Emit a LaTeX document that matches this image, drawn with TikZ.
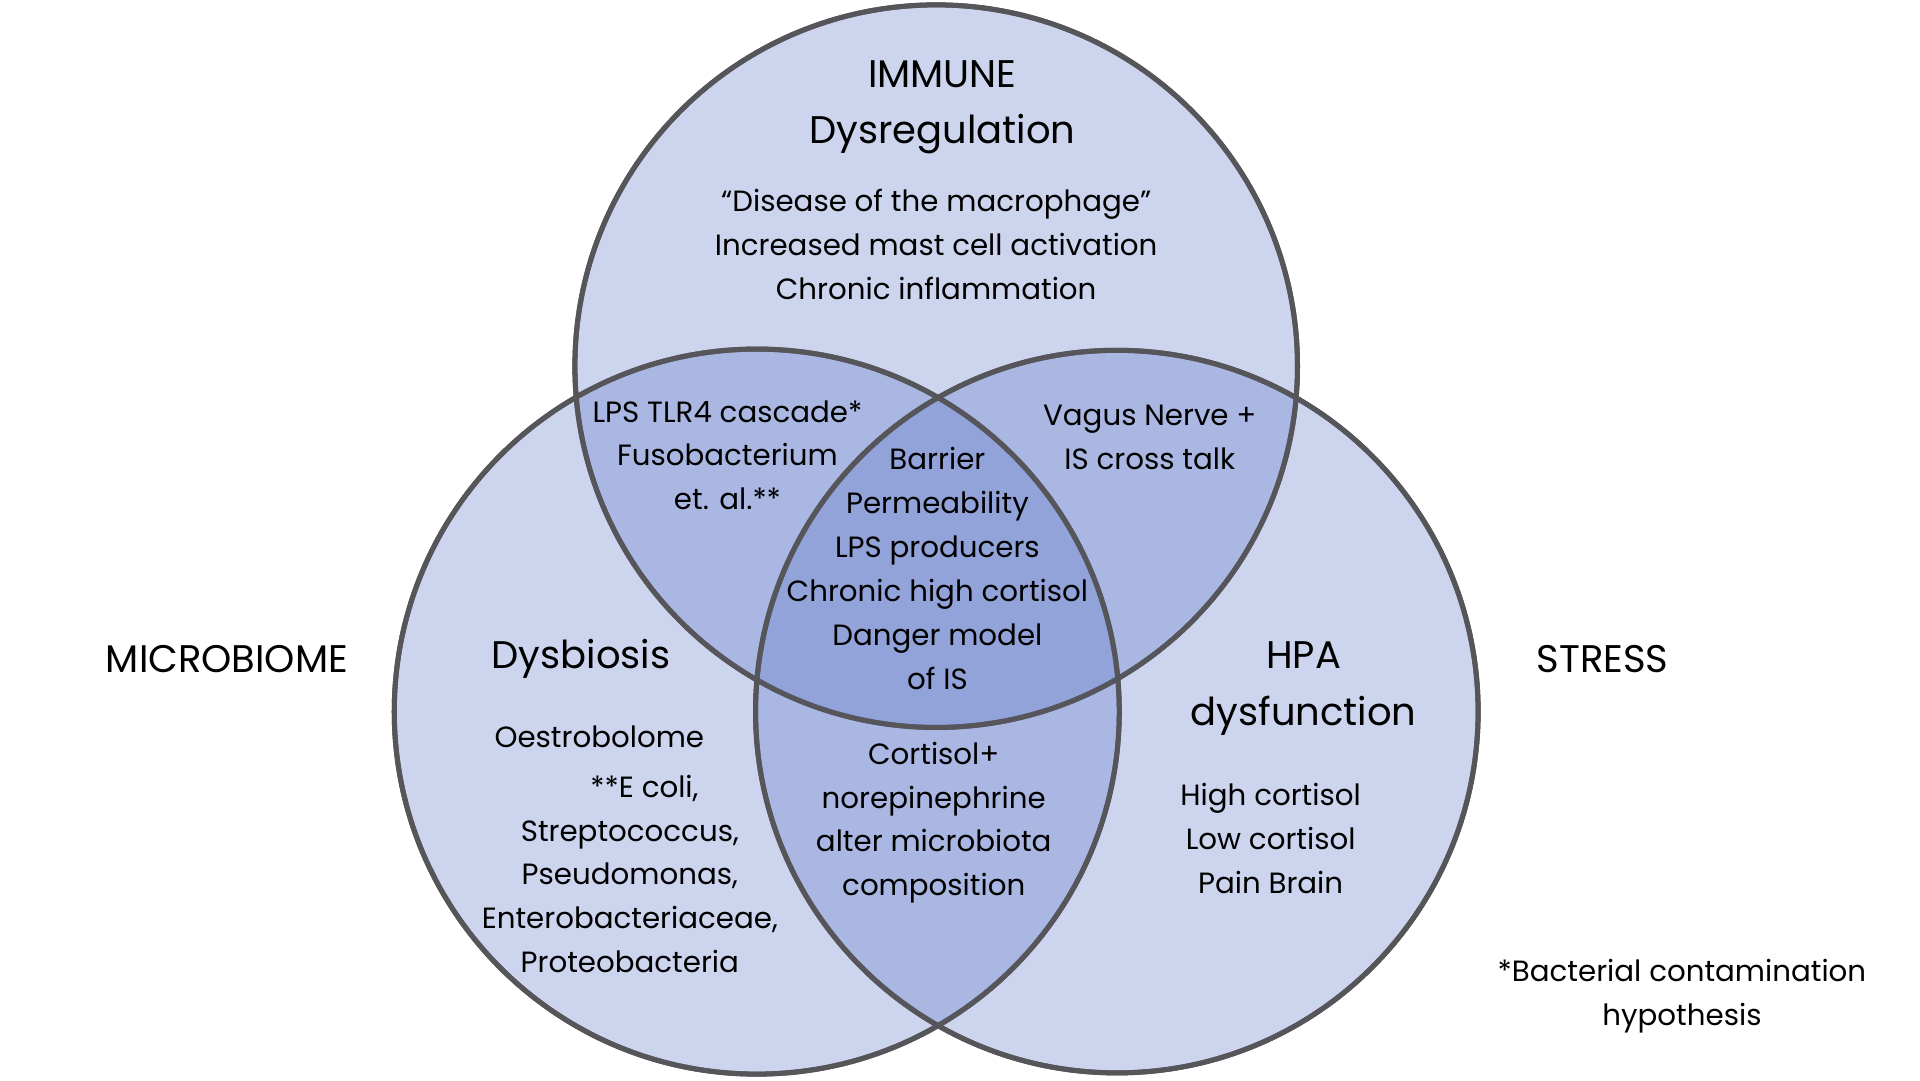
\documentclass[tikz,border=0pt]{standalone}
\usepackage{fontspec}
\setmainfont{Poppins}
\definecolor{venn}{RGB}{88,115,198}
\definecolor{rim}{RGB}{85,85,90}
\tikzset{
  set/.style={fill=venn,fill opacity=0.3,draw=rim,draw opacity=1,line width=1.2pt},
  txt/.style={align=center,font=\fontsize{7}{10.5}\selectfont,inner sep=0pt},
  head/.style={align=center,font=\fontsize{9.2}{13.5}\selectfont,inner sep=0pt}
}
\begin{document}
\begin{tikzpicture}[x=0.01026cm,y=-0.01026cm]
\useasboundingbox (0,0) rectangle (1573,885);
\coordinate (immune) at (767,300);
\coordinate (micro) at (620,583);
\coordinate (stress) at (915,583);
\fill[set] (immune) circle (296);
\fill[set] (micro) circle (297);
\fill[set] (stress) circle (296);
\draw[rim,line width=1.2pt] (immune) circle (296);
\draw[rim,line width=1.2pt] (micro) circle (297);
\draw[rim,line width=1.2pt] (stress) circle (296);
% headings
\node[head] (imh) at (772,88) {IMMUNE\\Dysregulation};
\node[head] (mih) at (186,540) {MICROBIOME};
\node[head] (dyh) at (476,540) {Dysbiosis};
\node[head] (hph) at (1068,564) {HPA\\dysfunction};
\node[head] (sth) at (1313,540) {STRESS};
% contents
\node[txt] (imt) at (767,200) {``Disease of the macrophage''\\Increased mast cell activation\\Chronic inflammation};
\node[txt] (lps) at (596,373) {LPS TLR4 cascade*\\Fusobacterium\\et. al.**};
\node[txt] (vag) at (942,358) {Vagus Nerve +\\IS cross talk};
\node[txt] (ctr) at (768,466) {Barrier\\Permeability\\LPS producers\\Chronic high cortisol\\Danger model\\of IS};
\node[txt] (oes) at (491,604) {Oestrobolome};
\node[txt] (bac) at (516,716) {\quad**E coli,\\Streptococcus,\\Pseudomonas,\\Enterobacteriaceae,\\Proteobacteria};
\node[txt] (cor) at (765,674) {Cortisol+\\norepinephrine\\alter microbiota\\composition};
\node[txt] (hig) at (1041,687) {High cortisol\\Low cortisol\\Pain Brain};
\node[txt] (hyp) at (1378,816) {*Bacterial contamination\\hypothesis};
\end{tikzpicture}
\end{document}
